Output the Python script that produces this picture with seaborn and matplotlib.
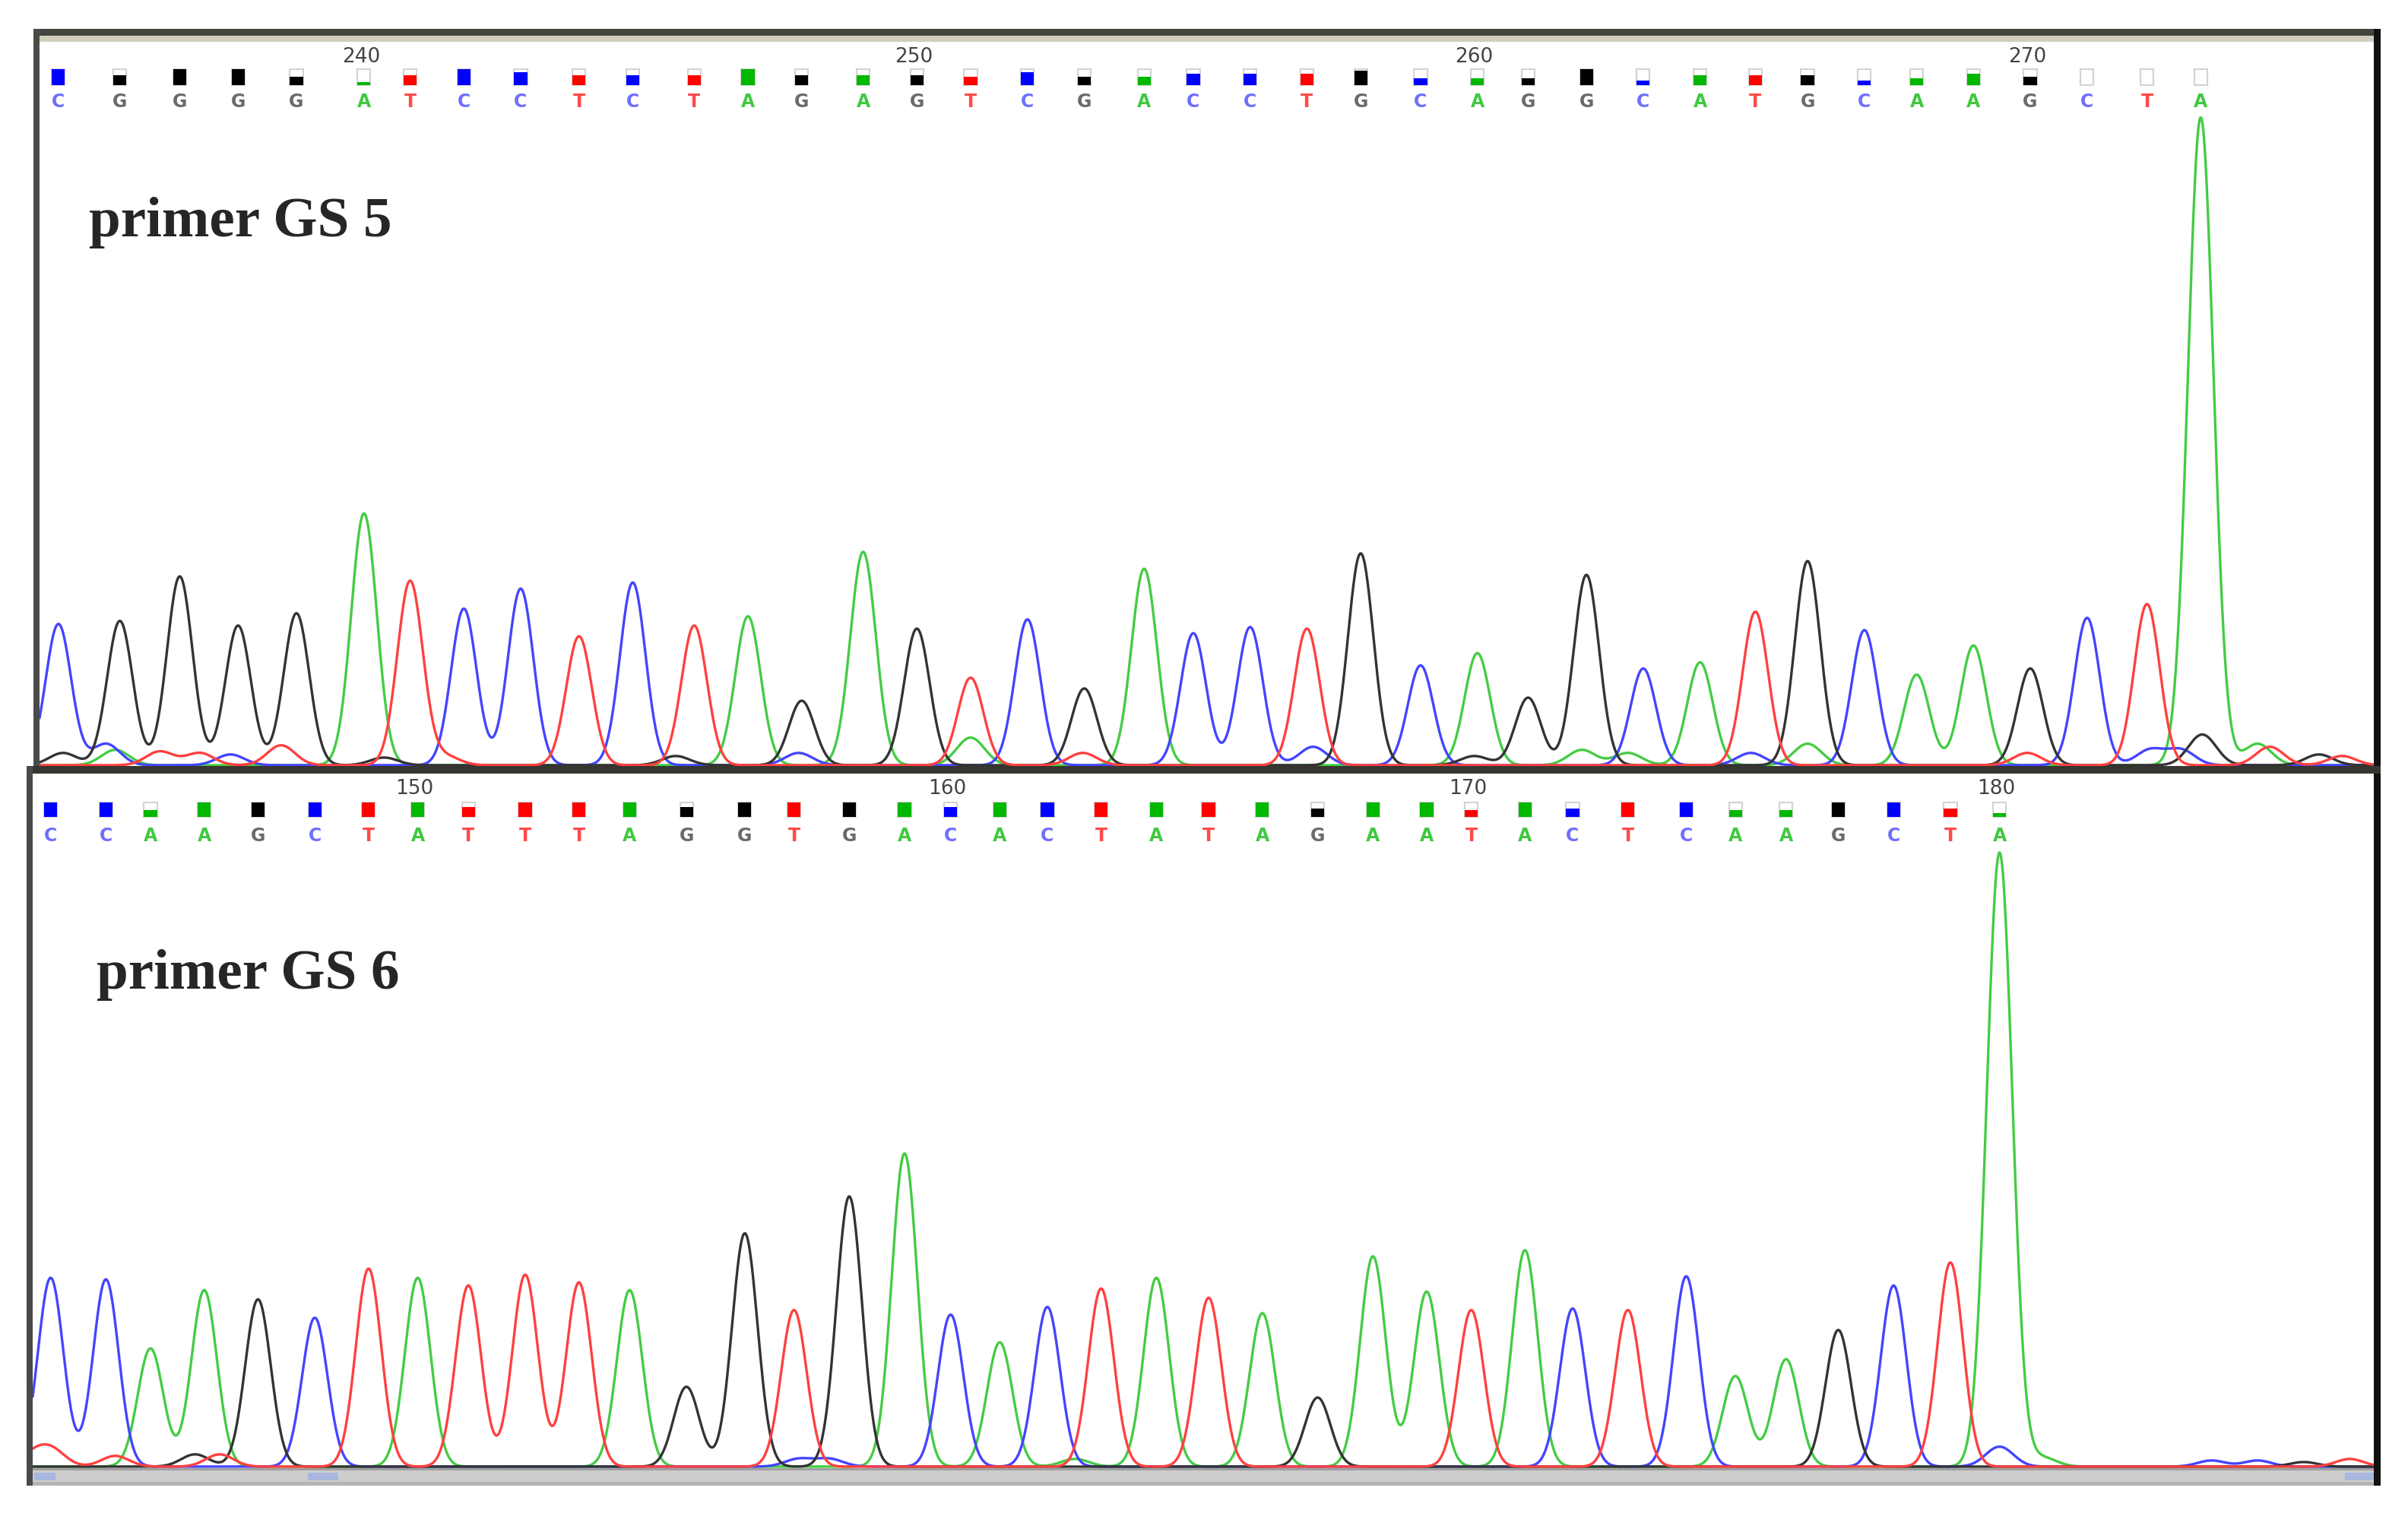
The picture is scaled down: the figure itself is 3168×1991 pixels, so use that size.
import numpy as np
import pandas as pd
import matplotlib
matplotlib.use("Agg")
import matplotlib.pyplot as plt
from matplotlib.patches import Rectangle
import seaborn as sns

# ---- data ----
# primer GS 5 : base calls 235..273
top_start = 235
top_bases = "CGGGGATCCTCTA" + "GAGTCGACCTGCA" + "GGCATGCAAGCTA"
top_peak_x = [38, 78, 117, 155, 193, 237, 267, 302, 339, 377, 412, 452, 487,
              522, 562, 597, 632, 669, 706, 745, 777, 814, 851, 886, 925, 962,
              995, 1033, 1070, 1107, 1143, 1177, 1214, 1248, 1285, 1322, 1359, 1398, 1433]
top_peak_h = [92, 94, 123, 91, 99, 164, 120, 102, 115, 84, 119, 91, 97,
              42, 139, 89, 57, 95, 50, 128, 86, 90, 89, 138, 65, 73,
              44, 124, 63, 67, 100, 133, 88, 59, 78, 63, 96, 105, 422]
top_quality = [1.0, 0.6, 1.0, 1.0, 0.5, 0.2, 0.6, 1.0, 0.8, 0.6, 0.6, 0.6, 1.0,
               0.6, 0.6, 0.6, 0.5, 0.8, 0.5, 0.5, 0.7, 0.7, 0.7, 0.9, 0.4, 0.4,
               0.4, 1.0, 0.3, 0.6, 0.6, 0.6, 0.3, 0.4, 0.7, 0.5, 0.0, 0.0, 0.0]
top_ticks = [240, 250, 260, 270]
top_minor_x = [41, 69, 75, 104, 130, 150, 183, 250, 290, 440, 520, 632, 705,
               855, 960, 1030, 1060, 1140, 1177, 1320, 1400, 1420, 1434, 1470, 1478, 1510, 1525]
top_minor_h = [8, 14, 10, 9, 8, 7, 13, 5, 6, 6, 8, 18, 8,
               12, 6, 10, 8, 8, 14, 8, 10, 10, 20, 14, 12, 7, 6]
top_minor_b = "GCATTCT" + "GTGCAT" + "CGAACAT" + "CCGATGT"

# primer GS 6 : base calls 143..180
bot_start = 143
bot_bases = "CCAAGCTATTTAGG" + "TGACACTATAGAAT" + "ACTCAAGCTA"
bot_peak_x = [33, 69, 98, 133, 168, 205, 240, 272, 305, 342, 377, 410, 447, 485,
              517, 553, 589, 619, 651, 682, 717, 753, 787, 822, 858, 894, 929, 958,
              993, 1024, 1060, 1098, 1130, 1163, 1197, 1233, 1270, 1302]
bot_peak_h = [123, 122, 77, 115, 109, 97, 129, 123, 118, 125, 120, 115, 52, 152,
              102, 176, 204, 99, 81, 104, 116, 123, 110, 100, 45, 137, 114, 102,
              141, 103, 102, 124, 59, 70, 89, 118, 133, 400]
bot_quality = [1, 1, 0.5, 1, 1, 1, 1, 1, 0.7, 1, 1, 1, 0.7, 1,
               1, 1, 1, 0.7, 1, 1, 1, 1, 1, 1, 0.6, 1, 1, 0.5,
               1, 0.6, 1, 1, 0.5, 0.5, 1, 1, 0.6, 0.3]
bot_ticks = [150, 160, 170, 180]
bot_minor_x = [22, 34, 75, 127, 143, 520, 540, 700, 1302, 1330, 1440, 1470, 1500, 1530]
bot_minor_h = [8, 10, 7, 8, 8, 5, 5, 5, 13, 6, 4, 4, 3, 5]
bot_minor_b = "TTTGTCCACACCGT"

trace_colors = {"A": "#44cc44", "C": "#4444ff", "G": "#333333", "T": "#ff4040"}
letter_colors = {"A": "#40c840", "C": "#6e6eff", "G": "#6a6a6a", "T": "#ff4a4a"}
box_colors = {"A": "#00b800", "C": "#0000ff", "G": "#000000", "T": "#ff0000"}

W, H = 3168, 1991
fig = plt.figure(figsize=(W / 200, H / 200), dpi=200)
sns.set_theme(style="white")
plt.rcParams["font.family"] = ["DejaVu Sans"]


def px_axes(x0, y0, x1, y1, z=1):
    return fig.add_axes([x0 / W, 1 - y1 / H, (x1 - x0) / W, (y1 - y0) / H], zorder=z)


def traces(px, ph, pb, mx, mh, mb, xlim):
    xs = np.arange(xlim[0], xlim[1], 0.5)
    rows = []
    for b in "ACGT":
        y = np.zeros_like(xs)
        for x0, h0, bb in zip(px, ph, pb):
            if bb == b:
                y += h0 * np.exp(-0.5 * ((xs - x0) / 8.3) ** 2)
        for x0, h0, bb in zip(mx, mh, mb):
            if bb == b:
                y += h0 * np.exp(-0.5 * ((xs - x0) / 9.0) ** 2)
        rows.append(pd.DataFrame({"scan": xs, "signal": y, "base": b}))
    return pd.concat(rows, ignore_index=True)


def panel(ax, xlim, ylim, start, bases, px, ph, qual, ticks, mx, mh, mb,
          y_box, box_h, y_let, y_num):
    df = traces(px, ph, bases, mx, mh, mb, xlim)
    sns.lineplot(data=df, x="scan", y="signal", hue="base", palette=trace_colors,
                 estimator=None, sort=False, legend=False, linewidth=1.2, ax=ax)
    ax.set_xlim(*xlim)
    ax.set_ylim(*ylim)
    ax.set_axis_off()
    bw = 8.5
    for x, b, q in zip(px, bases, qual):
        ax.add_patch(Rectangle((x - bw / 2, y_box), bw, box_h, facecolor="white",
                               edgecolor="#d4d4d4", linewidth=0.8, zorder=3))
        if q > 0:
            ax.add_patch(Rectangle((x - bw / 2, y_box), bw, box_h * q,
                                   facecolor=box_colors[b], edgecolor="none", zorder=4))
        ax.text(x, y_let, b, color=letter_colors[b], ha="center", va="center",
                fontsize=8.5, fontweight="bold",
                family=["Liberation Sans Narrow", "DejaVu Sans"])
    for t in ticks:
        ax.text(px[t - start] - 2, y_num, str(t), color="#444444", ha="center",
                va="center", fontsize=9.5, family=["Liberation Sans Narrow", "DejaVu Sans"])


# trace axes (1 scan unit = 1 data unit = 2.0204 px)
ax_top = px_axes(52, 55, 3123, 1010)
panel(ax_top, (25.7, 1545.7), (-1.5, 471.2), top_start, top_bases, top_peak_x,
      top_peak_h, top_quality, top_ticks, top_minor_x, top_minor_h, top_minor_b,
      y_box=443.0, box_h=10.5, y_let=432.0, y_num=461.5)

ax_bot = px_axes(43, 1018, 3123, 1932)
panel(ax_bot, (21.3, 1545.7), (-1.0, 451.4), bot_start, bot_bases, bot_peak_x,
      bot_peak_h, bot_quality, bot_ticks, bot_minor_x, bot_minor_h, bot_minor_b,
      y_box=423.0, box_h=9.5, y_let=411.0, y_num=441.5)

# frame overlay in pixel coordinates
ov = px_axes(0, 0, W, H, z=5)
ov.set_xlim(0, W)
ov.set_ylim(H, 0)
ov.set_axis_off()
ov.patch.set_alpha(0)
frames = [
    (44, 38, 3088, 9, "#45453f"),
    (52, 47, 3071, 8, "#d2cebc"),
    (44, 38, 8, 975, "#4a4a4a"),
    (3123, 38, 9, 1917, "#111111"),
    (35, 1008, 3097, 10, "#37352f"),
    (35, 1008, 8, 947, "#4a4a4a"),
    (43, 1932, 3080, 23, "#cdcdcd"),
    (43, 1932, 3080, 3, "#a0a0a0"),
    (43, 1950, 3080, 5, "#b4b4b4"),
    (45, 1938, 28, 10, "#a9b7df"),
    (405, 1938, 40, 10, "#a9b7df"),
    (3085, 1938, 38, 10, "#a9b7df"),
]
for x, y, w, h, c in frames:
    ov.add_patch(Rectangle((x, y), w, h, facecolor=c, edgecolor="none"))

ov.text(117, 293, "primer GS 5", ha="left", va="center", fontsize=27,
        fontweight="bold", family=["Liberation Serif", "DejaVu Serif"])
ov.text(127, 1283, "primer GS 6", ha="left", va="center", fontsize=27,
        fontweight="bold", family=["Liberation Serif", "DejaVu Serif"])

fig.savefig("out.png", dpi=200, facecolor="white")
